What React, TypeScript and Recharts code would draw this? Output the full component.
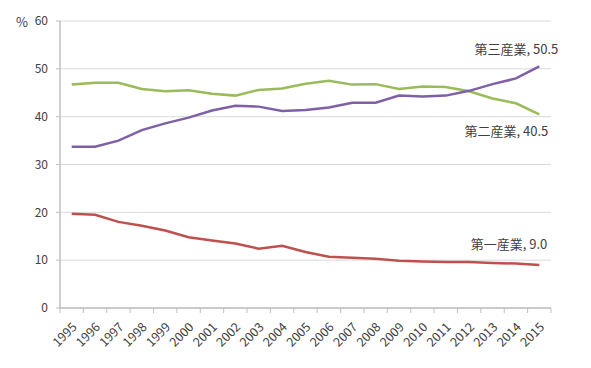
import React from 'react';
import { LineChart, Line, XAxis, YAxis, CartesianGrid } from 'recharts';

const years = ['1995','1996','1997','1998','1999','2000','2001','2002','2003','2004','2005','2006','2007','2008','2009','2010','2011','2012','2013','2014','2015'];
// purple
const tertiary = [33.7,33.7,35.0,37.2,38.6,39.8,41.3,42.3,42.1,41.2,41.4,41.9,42.9,42.9,44.4,44.2,44.4,45.4,46.8,48.0,50.5];
// green
const secondary = [46.7,47.1,47.1,45.8,45.3,45.5,44.8,44.4,45.6,45.9,46.9,47.5,46.7,46.8,45.8,46.3,46.2,45.3,43.8,42.8,40.5];
// red
const primary = [19.7,19.5,18.0,17.2,16.2,14.8,14.1,13.5,12.4,13.0,11.7,10.7,10.5,10.3,9.9,9.7,9.6,9.6,9.4,9.3,9.0];
const yTicks = [0,10,20,30,40,50,60];

const seriesNames = { tertiary: '第三産業', secondary: '第二産業', primary: '第一産業' };

const data = years.map((y, i) => ({ year: y, tertiary: tertiary[i], secondary: secondary[i], primary: primary[i] }));

const FONT = '"Noto Sans CJK JP", "Noto Sans", sans-serif';
const TEXT = '#404040';
const AXIS = '#bfbfbf';

const XTick = (props: any) => {
  const { x, y, payload, index } = props;
  const half = payload && payload.offset ? payload.offset : 0;
  const isLast = index === years.length - 1;
  return (
    <g>
      <line x1={x - half} x2={x - half} y1={y} y2={y + 5} stroke={AXIS} strokeWidth={1} />
      {isLast ? <line x1={x + half} x2={x + half} y1={y} y2={y + 5} stroke={AXIS} strokeWidth={1} /> : null}
      <g transform={`translate(${x + 2},${y + 16})`}>
        <text x={0} y={0} textAnchor="end" dominantBaseline="central" transform="rotate(-45)" fill={TEXT} fontSize={12.5} fontFamily={FONT}>
          {payload.value}
        </text>
      </g>
    </g>
  );
};

const makeEndLabel = (key: 'tertiary' | 'secondary' | 'primary', dx: number, dy: number) => (props: any) => {
  const { x, y, index, value } = props;
  if (index !== years.length - 1) return null;
  return (
    <text x={x + dx} y={y + dy} textAnchor="end" dominantBaseline="central" fill={TEXT} fontSize={13} fontFamily={FONT}>
      {`${seriesNames[key]}, ${Number(value).toFixed(1)}`}
    </text>
  );
};

const PercentLabel = (props: any) => {
  const vb = props.viewBox || {};
  return (
    <text x={vb.x - 4} y={vb.y} textAnchor="start" dominantBaseline="central" fill={TEXT} fontSize={13} fontFamily={FONT}>
      %
    </text>
  );
};

export default function App() {
  return (
    <div style={{ position: 'absolute', left: 0, top: 0, width: 591, height: 368, background: '#fff' }}>
      <LineChart width={591} height={368} data={data} margin={{ top: 21, right: 40, bottom: 10, left: 20 }}>
        <CartesianGrid vertical={false} stroke="#d9d9d9" strokeWidth={1} />
        <XAxis
          dataKey="year"
          scale="band"
          interval={0}
          tickSize={0}
          tickMargin={0}
          tickLine={false}
          axisLine={{ stroke: AXIS, strokeWidth: 1.5 }}
          tick={<XTick />}
          height={50}
        />
        <YAxis
          domain={[0, 60]}
          ticks={yTicks}
          width={40}
          tickSize={4}
          tickMargin={8}
          axisLine={{ stroke: AXIS, strokeWidth: 1.5 }}
          tickLine={{ stroke: AXIS }}
          tick={{ fill: TEXT, fontSize: 12, fontFamily: FONT }}
          label={{ content: <PercentLabel /> }}
        />
        <Line type="linear" dataKey="secondary" stroke="#9BBB59" strokeWidth={2.5} dot={false} isAnimationActive={false} label={makeEndLabel('secondary', 9, 16)} />
        <Line type="linear" dataKey="tertiary" stroke="#7F60A6" strokeWidth={2.5} dot={false} isAnimationActive={false} label={makeEndLabel('tertiary', 19, -18)} />
        <Line type="linear" dataKey="primary" stroke="#C0504D" strokeWidth={2.5} dot={false} isAnimationActive={false} label={makeEndLabel('primary', 8, -21)} />
      </LineChart>
    </div>
  );
}
